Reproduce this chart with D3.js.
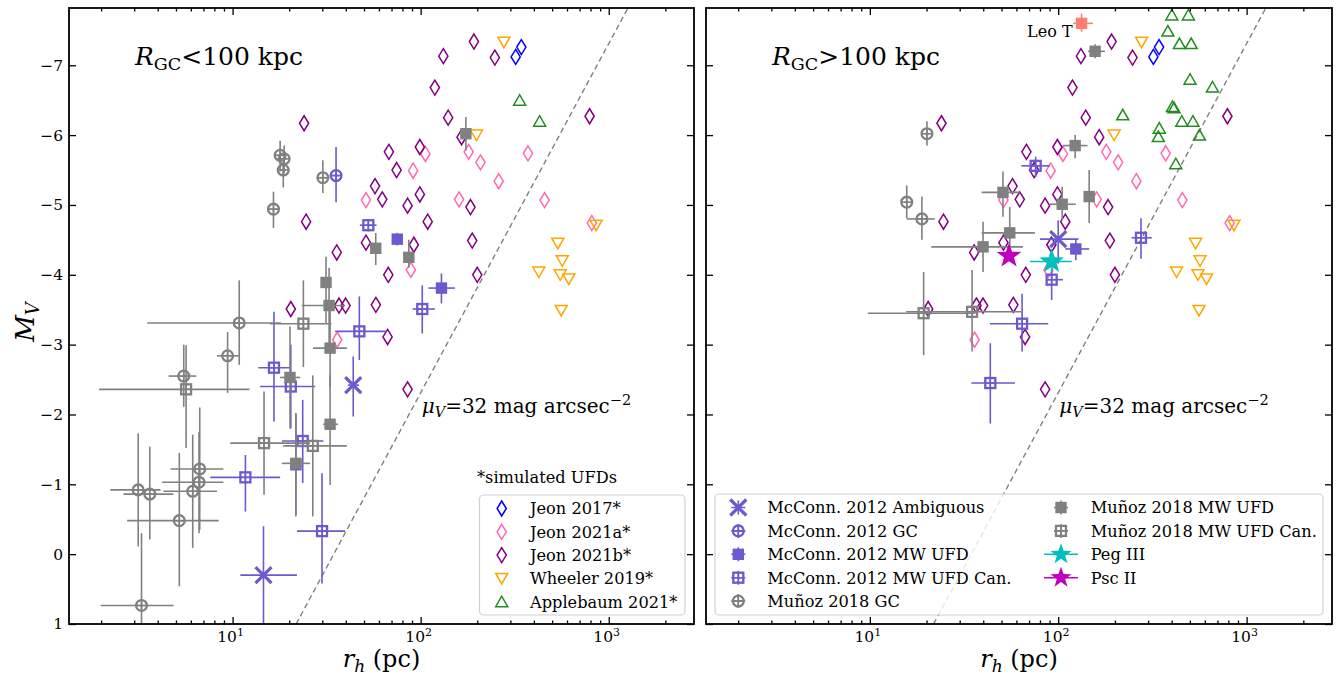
<!DOCTYPE html>
<html><head><meta charset="utf-8">
<script src="https://cdn.jsdelivr.net/npm/d3@7"></script>
<style>body{margin:0;background:#fff} text{font-family:"DejaVu Serif",serif;fill:#000}</style>
</head><body><svg id="c" width="1336" height="681"></svg>
<script>
// ---------------- DATA ----------------
// simulated UFDs: [r_h (pc), M_V]
const jeon2017 = [[343,-7.26],[320,-7.12]];
const jeon2021a = [[106,-5.73],[91.2,-5.49],[51.2,-5.07],[180,-5.76],[208,-5.61],[260,-5.34],[372,-5.74],[160,-5.08],[456,-5.07],[813,-4.74],[88.7,-4.07],[36.0,-3.07]];
const jeon2021b = [[24.0,-6.17],[24.6,-4.76],[35.8,-4.32],[20.4,-3.51],[36.8,-3.56],[39.9,-3.56],[192,-7.34],[132,-7.13],[248,-7.11],[119,-6.68],[140,-6.25],[165,-5.97],[791,-6.27],[67.8,-5.76],[99,-5.83],[74.5,-5.50],[57.2,-5.27],[62.5,-5.08],[85.2,-4.99],[99,-5.15],[184,-4.97],[109,-4.76],[51.2,-4.46],[92,-4.43],[188,-4.49],[67.3,-4.0],[200,-4.0],[57.8,-3.57],[66.7,-3.11],[85.2,-2.36]];
const wheeler2019 = [[277,-7.33],[198,-6.0],[536,-4.45],[566,-4.2],[425,-4.04],[552,-4.0],[613,-3.94],[559,-3.49],[857,-4.71]];
const applebaumInner = [[336,-6.5],[429,-6.2]];
const applebaumOuter = [[401,-7.72],[491,-7.72],[382,-7.49],[440,-7.31],[508,-7.31],[501,-6.8],[659,-6.69],[220,-6.29],[404,-6.41],[412,-6.39],[453,-6.2],[519,-6.2],[344,-6.1],[340,-5.98],[562,-6.0],[421,-5.59]];

// observed: [r_h, M_V, r_lo, r_hi, M_lo, M_hi]
const mcconnAmbInner = [[14.6,0.30,11.0,22,-0.4,1.5],[43.8,-2.42,41,47,-2.83,-1.97]];
const mcconnGCInner = [[35.5,-5.42,34,37,-5.83,-5.04]];
const mcconnUFDInner = [[75.1,-4.51,72,78,-4.6,-4.42],[129,-3.81,110,152,-4.02,-3.59],[21.7,-1.28,20.5,23,-2.0,-0.56]];
const mcconnCanInner = [[52.7,-4.71,47.5,58.3,-4.8,-4.62],[102,-3.51,90.6,119,-3.85,-3.16],[47.2,-3.19,35.1,65.9,-3.69,-2.78],[16.6,-2.67,13.7,20.2,-3.47,-1.9],[20.4,-2.40,14.0,27.5,-3.0,-1.8],[23.6,-1.62,18.3,30.4,-2.21,-1.02],[11.7,-1.10,7.62,17.9,-1.42,-0.61],[29.9,-0.33,22,39.7,-1.16,0.42]];
const munozGCInner = [[16.5,-4.94,15.5,17.5,-5.19,-4.67],[17.9,-5.71,17.2,18.6,-5.92,-5.48],[18.8,-5.66,18.1,19.5,-5.85,-5.45],[18.6,-5.50,17.9,19.3,-5.64,-5.25],[30.2,-5.39,28.5,32.0,-5.64,-5.17],[10.85,-3.31,3.52,18.1,-3.92,-2.71],[9.41,-2.84,8.26,10.8,-3.18,-2.31],[5.5,-2.55,4.57,6.41,-3.0,-2.11],[3.15,-0.92,2.24,4.14,-1.73,-0.11],[3.63,-0.86,2.63,4.84,-1.54,-0.21],[5.21,-0.48,2.75,8.44,-1.45,0.46],[6.14,-0.9,4.29,8.26,-1.71,-0.09],[6.63,-1.03,4.22,8.93,-1.75,-0.3],[6.69,-1.22,4.68,8.93,-2.1,-0.35],[3.28,0.735,1.99,4.86,-0.3,1.8]];
const munozUFDInner = [[20.2,-2.53,17.9,22.9,-3.26,-1.8],[21.7,-1.30,18.3,25.8,-2.02,-0.54],[33,-1.86,30.3,36.4,-2.56,-0.99],[33,-2.95,26.8,40.5,-3.5,-2.4],[31.4,-3.89,30,33,-4.26,-3.3],[32.6,-3.56,23.3,39.7,-4.1,-3.0],[57.7,-4.38,55,61,-4.6,-4.14],[86.5,-4.25,83,90,-4.5,-4.1],[174,-6.02,165,183,-6.26,-5.78]];
const munozCanInner = [[23.8,-3.30,15.8,33.6,-3.92,-2.68],[5.66,-2.36,1.95,12.3,-2.99,-1.52],[14.7,-1.59,9.72,25.8,-2.33,-0.85],[26.7,-1.55,18.6,40.5,-2.56,-0.54]];

const mcconnAmbOuter = [[100,-4.51,80,128,-4.78,-4.16]];
const mcconnUFDOuter = [[124,-4.37,109,146,-4.5,-4.21]];
const mcconnCanOuter = [[64.3,-3.3,43.4,88.5,-3.73,-2.9],[43.6,-2.45,34.6,58.9,-3.02,-1.87],[92.3,-3.93,86.7,106,-4.07,-3.64],[75.9,-5.56,63.8,90.3,-5.69,-5.4],[275,-4.53,245,314,-4.81,-4.23]];
const munozGCOuter = [[20.1,-6.02,19.5,20.7,-6.2,-5.85],[15.7,-5.04,15.2,16.2,-5.28,-4.81],[18.9,-4.80,15.7,22.1,-5.12,-4.5]];
const munozUFDOuter = [[157,-7.2,144,177,-7.3,-7.1],[123,-5.85,106,143,-6.0,-5.67],[50.9,-5.18,39.2,62.5,-5.48,-4.83],[105,-5.01,90.3,124,-5.26,-4.78],[146,-5.12,140,152,-5.5,-4.74],[55.3,-4.60,39.2,75.2,-4.97,-4.21],[39.9,-4.40,21.2,64.9,-4.76,-4.04]];
const munozCanOuter = [[19.3,-3.45,9.76,36.1,-4.04,-2.85],[34.9,-3.47,15.6,63.8,-4.07,-2.9]];
const pegIII = [[92.3,-4.19,70.8,118,-4.35,-4.04]];
const pscII = [[54.8,-4.27,53,56.5,-4.35,-4.2]];
const leoT = [[133,-7.6,120,153,-7.74,-7.48]];

// axes
const xDomain = [1.35, 2840];
const yDomain = [1, -7.82];
const xMajorTicks = [10, 100, 1000];
const xTickExponents = ["1", "2", "3"];
const yTicks = [-7, -6, -5, -4, -3, -2, -1, 0, 1];
const muLine = 7.69; // M_V = muLine - 5 log10(r_h)  (mu_V = 32)

// ---------------- DRAWING ----------------
const SLATE = '#6a5acd', GRAY = '#808080';
const svg = d3.select('#c');
const Y0 = 8, Y1 = 624;
const panels = [{x0: 69, x1: 694}, {x0: 706, x1: 1332}];
const LEG_FS = 16.2;

function starPath(R) {
  const r = R * 0.4; let p = '';
  for (let i = 0; i < 10; i++) {
    const a = -Math.PI / 2 + i * Math.PI / 5, rr = i % 2 ? r : R;
    p += (i ? 'L' : 'M') + (rr * Math.cos(a)).toFixed(2) + ',' + (rr * Math.sin(a)).toFixed(2);
  }
  return p + 'Z';
}
const shapes = {
  diamond: 'M0,-7.5L4.6,0L0,7.5L-4.6,0Z',
  tdown: 'M-6,-5L6,-5L0,5.5Z',
  tup: 'M-6,5L6,5L0,-5.5Z',
};

function drawMarker(g, shape, color, cx, cy, scale = 1) {
  const t = `translate(${cx},${cy})`;
  if (shape === 'diamond' || shape === 'tdown' || shape === 'tup') {
    g.append('path').attr('d', shapes[shape]).attr('transform', t + ` scale(${scale})`)
      .attr('fill', 'none').attr('stroke', color).attr('stroke-width', 1.5);
  } else if (shape === 'osq') {
    g.append('rect').attr('x', cx - 5).attr('y', cy - 5).attr('width', 10).attr('height', 10)
      .attr('fill', 'none').attr('stroke', color).attr('stroke-width', 2.3);
    g.append('path').attr('d', `M${cx - 5},${cy}H${cx + 5}M${cx},${cy - 5}V${cy + 5}`).attr('stroke', color).attr('stroke-width', 1.5);
  } else if (shape === 'ocirc') {
    g.append('circle').attr('cx', cx).attr('cy', cy).attr('r', 5.4)
      .attr('fill', 'none').attr('stroke', color).attr('stroke-width', 2.3);
    g.append('path').attr('d', `M${cx - 5},${cy}H${cx + 5}M${cx},${cy - 5}V${cy + 5}`).attr('stroke', color).attr('stroke-width', 1.5);
  } else if (shape === 'fsq') {
    g.append('rect').attr('x', cx - 5.7).attr('y', cy - 5.7).attr('width', 11.4).attr('height', 11.4).attr('fill', color);
  } else if (shape === 'x') {
    g.append('path').attr('d', `M${cx - 8},${cy - 8}L${cx + 8},${cy + 8}M${cx - 8},${cy + 8}L${cx + 8},${cy - 8}`)
      .attr('stroke', color).attr('stroke-width', 3.2);
  } else if (shape === 'star') {
    g.append('path').attr('d', starPath(13 * scale)).attr('transform', t).attr('fill', color);
  }
}

function drawSim(g, x, y, data, shape, color) {
  data.forEach(d => drawMarker(g, shape, color, x(d[0]), y(d[1])));
}
function drawObs(g, x, y, data, shape, color) {
  const eg = g.append('g').attr('stroke', color).attr('stroke-width', 1.6);
  eg.selectAll('line.xe').data(data).join('line').attr('class', 'xe')
    .attr('x1', d => x(d[2])).attr('x2', d => x(d[3])).attr('y1', d => y(d[1])).attr('y2', d => y(d[1]));
  eg.selectAll('line.ye').data(data).join('line').attr('class', 'ye')
    .attr('x1', d => x(d[0])).attr('x2', d => x(d[0])).attr('y1', d => y(d[4])).attr('y2', d => y(d[5]));
  data.forEach(d => drawMarker(g, shape, color, x(d[0]), y(d[1])));
}

function minorTicks() {
  const out = [];
  [1, 10, 100, 1000].forEach(dec => { for (let k = 2; k <= 9; k++) { const v = dec * k; if (v > xDomain[0] && v < xDomain[1]) out.push(v); } });
  return out;
}

panels.forEach((P, i) => {
  const x = d3.scaleLog().domain(xDomain).range([P.x0, P.x1]);
  const y = d3.scaleLinear().domain(yDomain).range([Y1, Y0]);
  const clipId = 'clip' + i;
  svg.append('clipPath').attr('id', clipId).append('rect')
    .attr('x', P.x0).attr('y', Y0).attr('width', P.x1 - P.x0).attr('height', Y1 - Y0);
  const g = svg.append('g').attr('clip-path', `url(#${clipId})`);

  // mu_V = 32 line
  const rA = Math.pow(10, (muLine - yDomain[0]) / 5), rB = Math.pow(10, (muLine - yDomain[1]) / 5);
  g.append('line').attr('x1', x(rA)).attr('y1', y(yDomain[0])).attr('x2', x(rB)).attr('y2', y(yDomain[1]))
    .attr('stroke', GRAY).attr('stroke-width', 1.4).attr('stroke-dasharray', '5.5,3.5');

  // simulated
  drawSim(g, x, y, jeon2017, 'diamond', '#0000ff');
  drawSim(g, x, y, jeon2021a, 'diamond', '#ff69b4');
  drawSim(g, x, y, jeon2021b, 'diamond', '#800080');
  drawSim(g, x, y, wheeler2019, 'tdown', '#ffa500');
  drawSim(g, x, y, i === 0 ? applebaumInner : applebaumOuter, 'tup', '#228b22');

  if (i === 0) {
    drawObs(g, x, y, mcconnAmbInner, 'x', SLATE);
    drawObs(g, x, y, mcconnGCInner, 'ocirc', SLATE);
    drawObs(g, x, y, mcconnUFDInner, 'fsq', SLATE);
    drawObs(g, x, y, mcconnCanInner, 'osq', SLATE);
    drawObs(g, x, y, munozGCInner, 'ocirc', GRAY);
    drawObs(g, x, y, munozUFDInner, 'fsq', GRAY);
    drawObs(g, x, y, munozCanInner, 'osq', GRAY);
  } else {
    drawObs(g, x, y, mcconnAmbOuter, 'x', SLATE);
    drawObs(g, x, y, mcconnUFDOuter, 'fsq', SLATE);
    drawObs(g, x, y, mcconnCanOuter, 'osq', SLATE);
    drawObs(g, x, y, munozGCOuter, 'ocirc', GRAY);
    drawObs(g, x, y, munozUFDOuter, 'fsq', GRAY);
    drawObs(g, x, y, munozCanOuter, 'osq', GRAY);
    drawObs(g, x, y, pegIII, 'star', '#00bfbf');
    drawObs(g, x, y, pscII, 'star', '#bf00bf');
    drawObs(g, x, y, leoT, 'fsq', '#fa8072');
    svg.append('text').attr('x', x(leoT[0][0]) - 9).attr('y', y(leoT[0][1]) + 14)
      .attr('text-anchor', 'end').attr('font-size', 16).text('Leo T');
  }

  // axes (inward ticks on all sides)
  const ax = svg.append('g');
  const addAxis = (axis, tr) => {
    const a = ax.append('g').attr('transform', tr).call(axis);
    a.select('.domain').remove();
    a.selectAll('line').attr('stroke', '#000').attr('stroke-width', 1.3);
    return a;
  };
  addAxis(d3.axisBottom(x).tickValues(xMajorTicks).tickSize(-7).tickFormat(''), `translate(0,${Y1})`);
  addAxis(d3.axisBottom(x).tickValues(minorTicks()).tickSize(-3.5).tickFormat(''), `translate(0,${Y1})`);
  addAxis(d3.axisTop(x).tickValues(xMajorTicks).tickSize(-7).tickFormat(''), `translate(0,${Y0})`);
  addAxis(d3.axisTop(x).tickValues(minorTicks()).tickSize(-3.5).tickFormat(''), `translate(0,${Y0})`);
  const yl = addAxis(d3.axisLeft(y).tickValues(yTicks).tickSize(-7).tickPadding(6)
      .tickFormat(d => i === 0 ? (d < 0 ? '\u2212' + (-d) : String(d)) : ''), `translate(${P.x0},0)`);
  yl.selectAll('text').attr('font-size', 15.5).attr('font-family', 'DejaVu Serif').attr('fill', '#000');
  addAxis(d3.axisRight(y).tickValues(yTicks).tickSize(-7).tickFormat(''), `translate(${P.x1},0)`);

  // x tick labels 10^n
  xMajorTicks.forEach((v, k) => {
    const t = svg.append('text').attr('x', x(v) - 2).attr('y', Y1 + 18).attr('text-anchor', 'middle').attr('font-size', 15.5);
    t.append('tspan').text('10');
    t.append('tspan').attr('dy', -6.5).attr('font-size', 11).text(xTickExponents[k]);
  });

  // frame
  svg.append('rect').attr('x', P.x0).attr('y', Y0).attr('width', P.x1 - P.x0).attr('height', Y1 - Y0)
    .attr('fill', 'none').attr('stroke', '#000').attr('stroke-width', 1.8);

  // title
  const tt = svg.append('text').attr('x', P.x0 + 66).attr('y', 65).attr('font-size', 25);
  tt.append('tspan').attr('font-style', 'italic').text('R');
  tt.append('tspan').attr('dy', 5).attr('font-size', 17.5).text('GC');
  tt.append('tspan').attr('dy', -5).text(i === 0 ? '<100 kpc' : '>100 kpc');

  // mu label
  const mu = svg.append('text').attr('x', x(100) + 1).attr('y', 413).attr('font-size', 20);
  mu.append('tspan').attr('font-style', 'italic').text('μ');
  mu.append('tspan').attr('font-style', 'italic').attr('dy', 4).attr('font-size', 14.5).text('V');
  mu.append('tspan').attr('dy', -4).text('=32 mag arcsec');
  mu.append('tspan').attr('dy', -8).attr('font-size', 14.5).text('\u22122');

  // x label
  const xl = svg.append('text').attr('x', (P.x0 + P.x1) / 2).attr('y', 667).attr('text-anchor', 'middle').attr('font-size', 24);
  xl.append('tspan').attr('font-style', 'italic').text('r');
  xl.append('tspan').attr('font-style', 'italic').attr('dy', 5).attr('font-size', 17).text('h');
  xl.append('tspan').attr('dy', -5).text(' (pc)');
});

// y label
const ylab = svg.append('text').attr('transform', 'translate(34,322) rotate(-90)').attr('text-anchor', 'middle').attr('font-size', 26);
ylab.append('tspan').attr('font-style', 'italic').text('M');
ylab.append('tspan').attr('font-style', 'italic').attr('dy', 5).attr('font-size', 18).text('V');

// ---------- legends ----------
function legendBox(x, y, w, h) {
  svg.append('rect').attr('x', x).attr('y', y).attr('width', w).attr('height', h).attr('rx', 4)
    .attr('fill', '#fff').attr('fill-opacity', 0.8).attr('stroke', '#d0d0d0').attr('stroke-width', 1.2);
}
function legendObs(shape, color, cx, cy, wide) {
  const g = svg.append('g');
  if (wide) {
    g.append('line').attr('x1', cx - 17).attr('x2', cx + 17).attr('y1', cy).attr('y2', cy).attr('stroke', color).attr('stroke-width', 1.6);
  } else {
    g.append('path').attr('d', `M${cx - 7},${cy}H${cx + 7}M${cx},${cy - 7}V${cy + 7}`).attr('stroke', color).attr('stroke-width', 1.6);
  }
  drawMarker(g, shape, color, cx, cy, wide ? 0.85 : 1);
}

svg.append('text').attr('x', 477).attr('y', 483).attr('font-size', LEG_FS).text('*simulated UFDs');
legendBox(479.5, 495, 205.5, 120);
const legSim = [['diamond', '#0000ff', 'Jeon 2017*'], ['diamond', '#ff69b4', 'Jeon 2021a*'], ['diamond', '#800080', 'Jeon 2021b*'], ['tdown', '#ffa500', 'Wheeler 2019*'], ['tup', '#228b22', 'Applebaum 2021*']];
legSim.forEach((d, k) => {
  const cy = 508.5 + k * 23.3;
  drawMarker(svg.append('g'), d[0], d[1], 501.7, cy);
  svg.append('text').attr('x', 530).attr('y', cy).attr('dy', '0.36em').attr('font-size', LEG_FS).text(d[2]);
});

legendBox(715, 494, 608, 121);
const legObsL = [['x', SLATE, 'McConn. 2012 Ambiguous'], ['ocirc', SLATE, 'McConn. 2012 GC'], ['fsq', SLATE, 'McConn. 2012 MW UFD'], ['osq', SLATE, 'McConn. 2012 MW UFD Can.'], ['ocirc', GRAY, 'Muñoz 2018 GC']];
const legObsR = [['fsq', GRAY, 'Muñoz 2018 MW UFD', false], ['osq', GRAY, 'Muñoz 2018 MW UFD Can.', false], ['star', '#00bfbf', 'Peg III', true], ['star', '#bf00bf', 'Psc II', true]];
legObsL.forEach((d, k) => {
  const cy = 507.5 + k * 23.4;
  legendObs(d[0], d[1], 738.3, cy, false);
  svg.append('text').attr('x', 767.3).attr('y', cy).attr('dy', '0.36em').attr('font-size', LEG_FS).text(d[2]);
});
legObsR.forEach((d, k) => {
  const cy = 507.5 + k * 23.4;
  legendObs(d[0], d[1], 1061, cy, d[3]);
  svg.append('text').attr('x', 1090.7).attr('y', cy).attr('dy', '0.36em').attr('font-size', LEG_FS).text(d[2]);
});
</script></body></html>
